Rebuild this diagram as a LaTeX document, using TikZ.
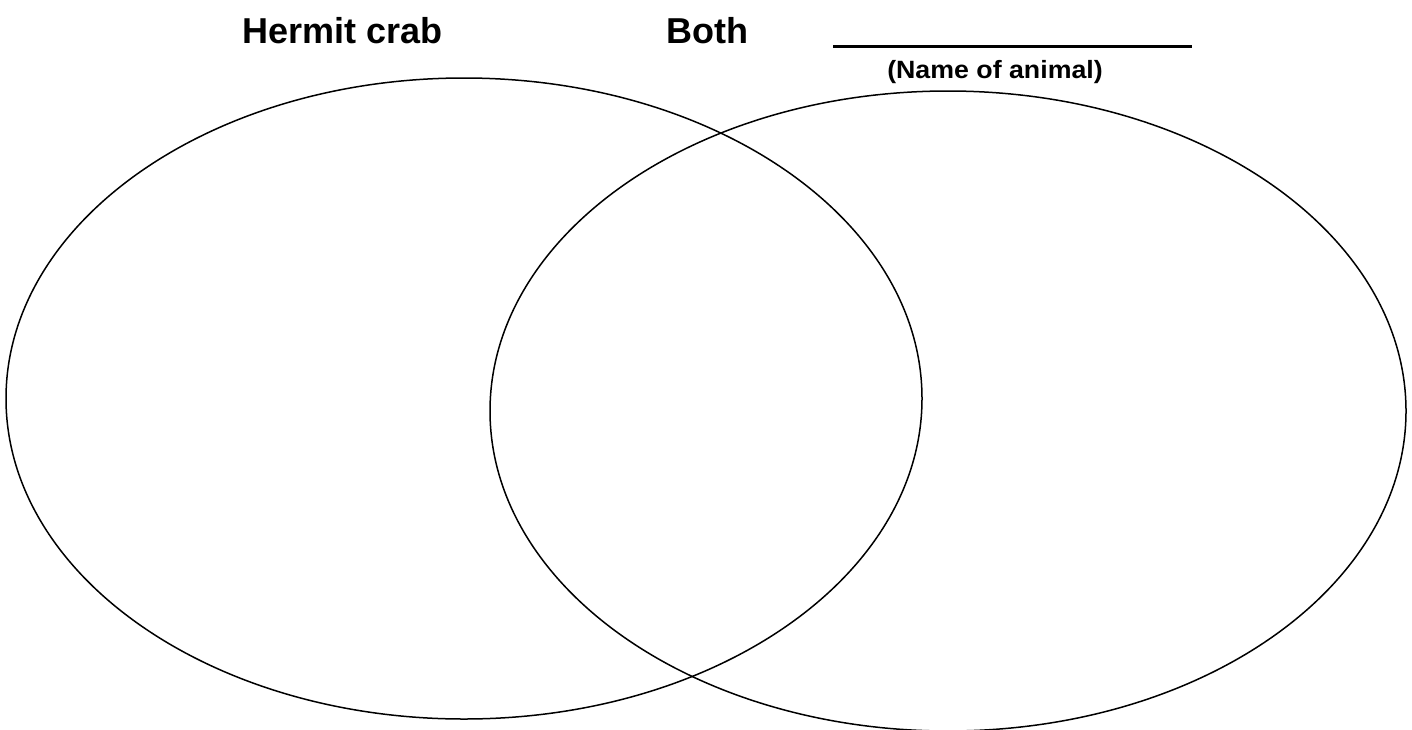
\documentclass[tikz,border=0pt]{standalone}
\usepackage{fontspec}
\setmainfont{Liberation Sans}
\newfontfamily\widesans[FakeStretch=1.07]{Liberation Sans}
\usetikzlibrary{positioning, shapes.geometric}

\begin{document}
\begin{tikzpicture}[x=1pt, y=-1pt, font=\bfseries,
  ring/.style={draw=black, line width=1.5pt, ellipse, inner sep=0pt},
  head/.style={font=\fontsize{36}{40}\selectfont\bfseries, inner sep=0pt, anchor=base}]
\useasboundingbox (0,0) rectangle (1412,729);
\node[ring, minimum width=916pt, minimum height=641pt](crab) at (464,398.5) {};
\node[ring, minimum width=916pt, minimum height=640pt](other) at (948,411) {};

\node[head](hc) at (343,43) {Hermit crab};
\node[head](both) at (707,43) {Both};
\coordinate (blankL) at (833,46);
\coordinate (blankR) at (1192,46);
\draw[line width=3pt](blankL)--(blankR);
\node[font=\widesans\fontsize{25}{28}\selectfont\bfseries, inner sep=0pt, anchor=base](name) at (995,78.5) {(Name of animal)};
\end{tikzpicture}
\end{document}
